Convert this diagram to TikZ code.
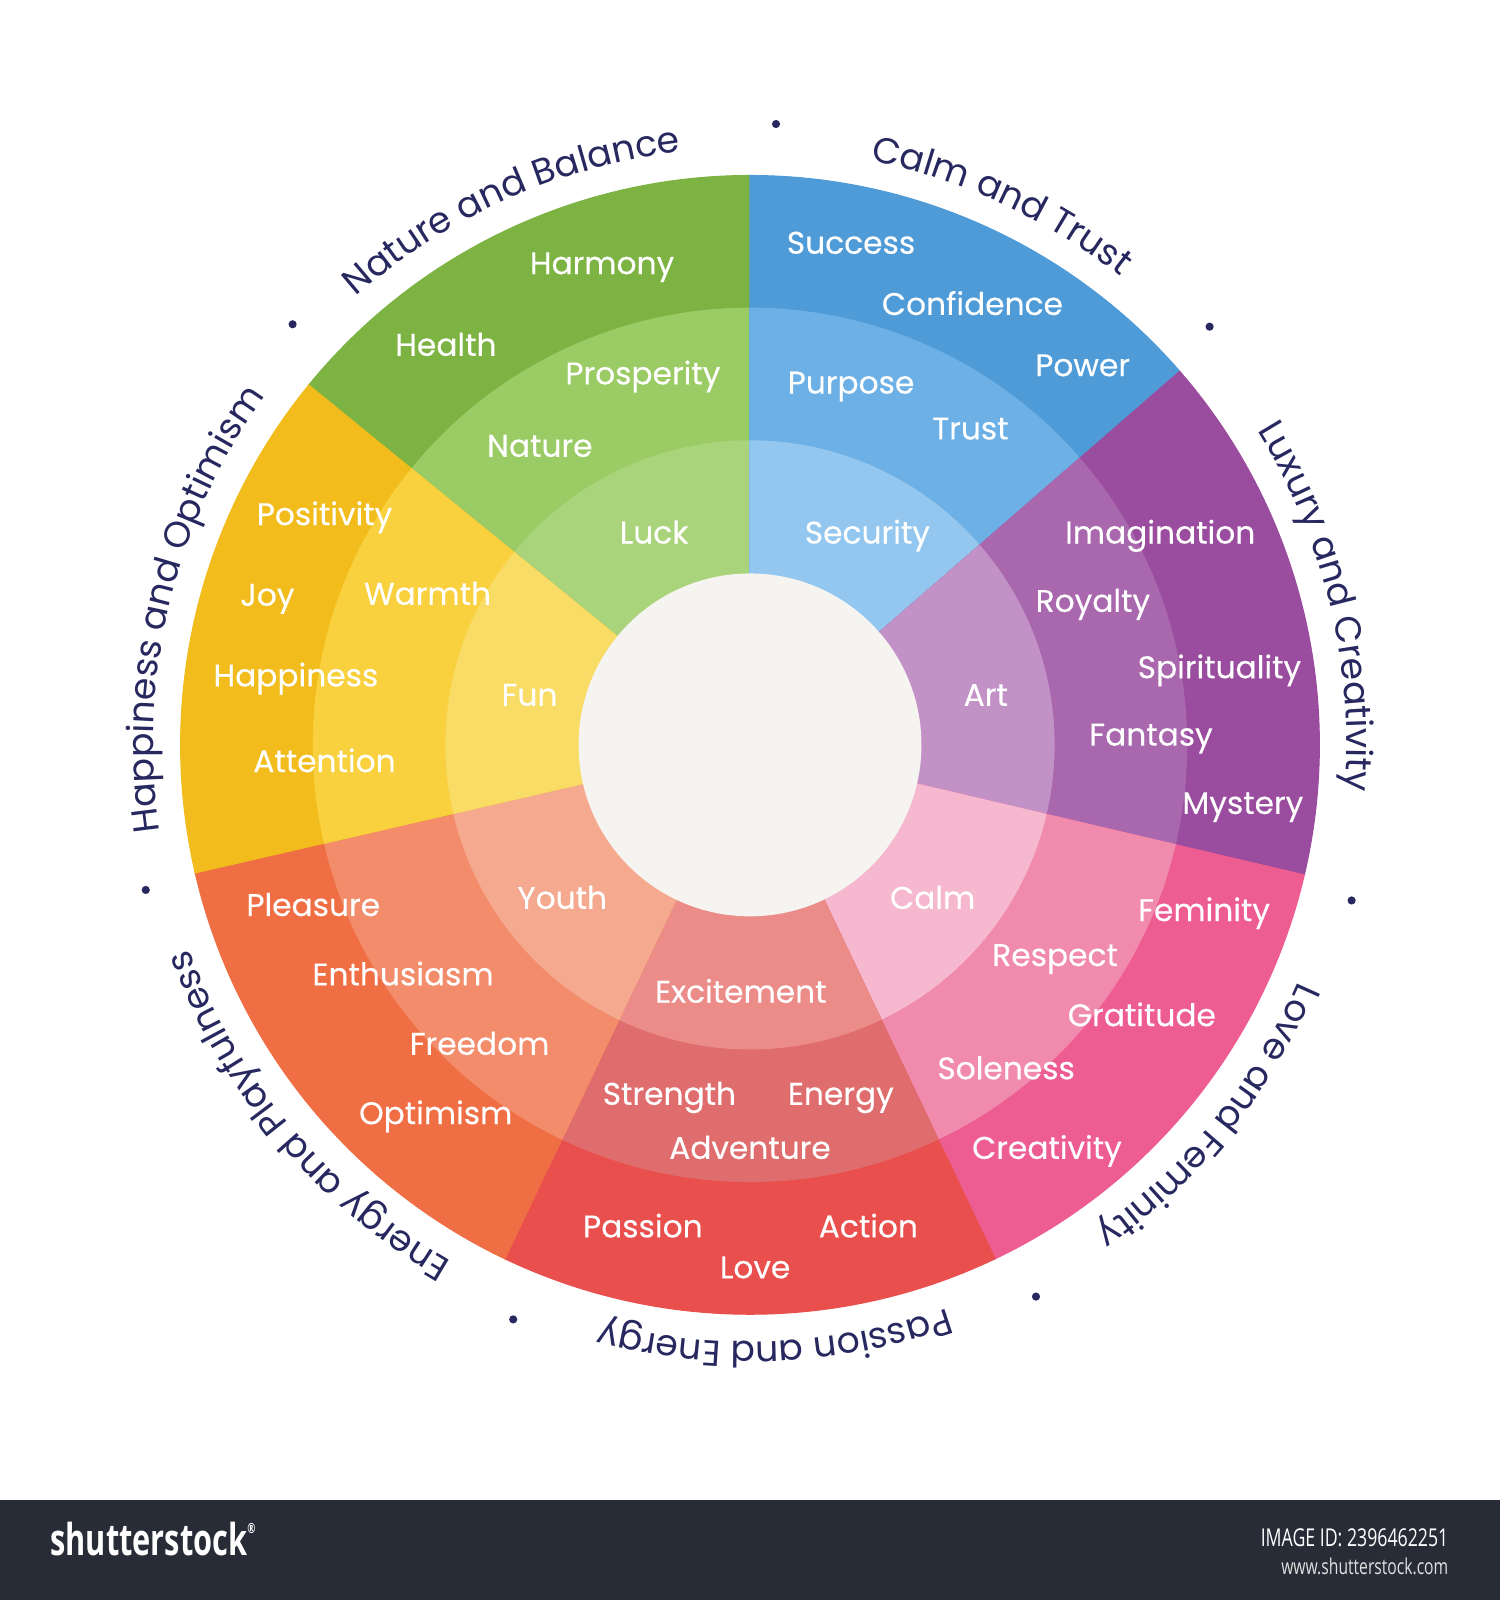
\documentclass[tikz,border=0pt]{standalone}
\usepackage{fontspec}
\setmainfont{Poppins}
\newfontfamily\labelfont{Poppins}[FakeBold=0.25]
\newfontfamily\curvefont{Poppins}
\newfontfamily\footfont{Open Sans}
\usetikzlibrary{decorations.text}
\definecolor{navy}{HTML}{26285F}
\definecolor{gO}{HTML}{7CB342}\definecolor{gM}{HTML}{9BCB64}\definecolor{gI}{HTML}{AAD47C}
\definecolor{bO}{HTML}{4F9BD7}\definecolor{bM}{HTML}{6CB0E5}\definecolor{bI}{HTML}{93C7EF}
\definecolor{pO}{HTML}{9A4C9E}\definecolor{pM}{HTML}{A967AE}\definecolor{pI}{HTML}{C292C6}
\definecolor{kO}{HTML}{EE5D92}\definecolor{kM}{HTML}{F18BAE}\definecolor{kI}{HTML}{F6B8CF}
\definecolor{rO}{HTML}{E94F4C}\definecolor{rM}{HTML}{E06D6D}\definecolor{rI}{HTML}{EB8C89}
\definecolor{oO}{HTML}{F06E44}\definecolor{oM}{HTML}{F28C6B}\definecolor{oI}{HTML}{F5AA90}
\definecolor{yO}{HTML}{F2BC1C}\definecolor{yM}{HTML}{F9D03E}\definecolor{yI}{HTML}{F8DC66}
\definecolor{hub}{HTML}{F5F4F1}
\definecolor{footbg}{HTML}{272C37}
\tikzset{
  lbl/.style={font=\labelfont\fontsize{8.9}{10}\selectfont, text=white, inner sep=0pt, text height=6.2pt, text depth=0pt},
  seg/.style={fill=#1, draw=#1, line width=0.3pt},
  curved/.style={decorate, decoration={text along path, text align=center, text color=navy, text={|\curvefont\fontsize{10.3}{12}\selectfont|#1}}},
  dotmark/.style={fill=navy},
  foottext/.style={text=white, inner sep=0pt}
}
\begin{document}
\begin{tikzpicture}[x=0.010204cm, y=0.010204cm]
\useasboundingbox (0,0) rectangle (1470,1568);
\fill[white] (0,0) rectangle (1470,1568);
\coordinate (c) at (735,838);
% wheel
\foreach \a/\b/\o/\m/\i in {90/140.8/gO/gM/gI, 41/90/bO/bM/bI, -13.2/41/pO/pM/pI, -64.5/-13.2/kO/kM/kI, -115.5/-64.5/rO/rM/rI, -167/-115.5/oO/oM/oI, 140.8/193/yO/yM/yI}{
  \filldraw[seg=\o] (c) -- ++(\a:558) arc[start angle=\a, end angle=\b, radius=558] -- cycle;
  \filldraw[seg=\m] (c) -- ++(\a:428) arc[start angle=\a, end angle=\b, radius=428] -- cycle;
  \filldraw[seg=\i] (c) -- ++(\a:298) arc[start angle=\a, end angle=\b, radius=298] -- cycle;
}
\fill[hub] (c) circle[radius=168];
% green
\node[lbl] (harmony) at (590,1310) {Harmony};
\node[lbl] (health) at (437,1230) {Health};
\node[lbl] (prosperity) at (630,1202) {Prosperity};
\node[lbl] (nature) at (529,1131) {Nature};
\node[lbl] (luck) at (641,1046) {Luck};
% blue
\node[lbl] (success) at (834,1330) {Success};
\node[lbl] (confidence) at (953,1270) {Confidence};
\node[lbl] (power) at (1061,1210) {Power};
\node[lbl] (purpose) at (834,1193) {Purpose};
\node[lbl] (trust) at (951,1148) {Trust};
\node[lbl] (security) at (850,1046) {Security};
% purple
\node[lbl] (imagination) at (1137,1046) {Imagination};
\node[lbl] (royalty) at (1071,979) {Royalty};
\node[lbl] (spirituality) at (1195,914) {Spirituality};
\node[lbl] (art) at (966,887) {Art};
\node[lbl] (fantasy) at (1128,848) {Fantasy};
\node[lbl] (mystery) at (1218,781) {Mystery};
% pink
\node[lbl] (calm) at (914,688) {Calm};
\node[lbl] (feminity) at (1180,676) {Feminity};
\node[lbl] (respect) at (1034,632) {Respect};
\node[lbl] (gratitude) at (1119,573) {Gratitude};
\node[lbl] (soleness) at (986,521) {Soleness};
\node[lbl] (creativity) at (1026,443) {Creativity};
% red
\node[lbl] (excitement) at (726,596) {Excitement};
\node[lbl] (strength) at (656,496) {Strength};
\node[lbl] (energy) at (824,496) {Energy};
\node[lbl] (adventure) at (735,443) {Adventure};
\node[lbl] (passion) at (630,366) {Passion};
\node[lbl] (action) at (851,366) {Action};
\node[lbl] (love) at (740,326) {Love};
% orange
\node[lbl] (pleasure) at (307,681) {Pleasure};
\node[lbl] (youth) at (551,688) {Youth};
\node[lbl] (enthusiasm) at (395,613) {Enthusiasm};
\node[lbl] (freedom) at (470,545) {Freedom};
\node[lbl] (optimism) at (427,477) {Optimism};
% yellow
\node[lbl] (positivity) at (318,1064) {Positivity};
\node[lbl] (joy) at (262,985) {Joy};
\node[lbl] (warmth) at (419,986) {Warmth};
\node[lbl] (happiness) at (290,906) {Happiness};
\node[lbl] (fun) at (519,887) {Fun};
\node[lbl] (attention) at (318,822) {Attention};
% dots
\foreach \t in {87.6,42.3,-14.5,-62.6,-112.4,193.5,137.4}
  \fill[dotmark] (c) ++(\t:609) circle[radius=4];
% curved titles
\path[curved={Nature and Balance}] (c) ++(154:585) arc[start angle=154, end angle=74, radius=585];
\path[curved={Calm and Trust}] (c) ++(105:585) arc[start angle=105, end angle=25, radius=585];
\path[curved={Luxury and Creativity}] (c) ++(53.7:585) arc[start angle=53.7, end angle=-26.3, radius=585];
\path[curved={Love and Feminity}] (c) ++(1:585) arc[start angle=1, end angle=-79, radius=585];
\path[curved={Passion and Energy}] (c) ++(-47.6:585) arc[start angle=-47.6, end angle=-127.6, radius=585];
\path[curved={Energy and Playfulness}] (c) ++(-100:585) arc[start angle=-100, end angle=-180, radius=585];
\path[curved={Happiness and Optimism}] (c) ++(206.3:585) arc[start angle=206.3, end angle=126.3, radius=585];
% footer
\fill[footbg] (0,0) rectangle (1470,98);
\node[foottext, font=\footfont\bfseries\fontsize{12.5}{14}\selectfont] (logo) at (150,60) {\scalebox{0.7}[1]{shutterstock\raisebox{0.9ex}{\fontsize{4}{4}\selectfont ®}}};
\node[foottext, anchor=east, font=\footfont\fontsize{7}{8}\selectfont] (imgid) at (1420,61) {\scalebox{0.72}[1]{IMAGE ID: 2396462251}};
\node[foottext, anchor=east, font=\footfont\fontsize{6.2}{7}\selectfont, text=white!88!black] (url) at (1420,33) {\scalebox{0.72}[1]{www.shutterstock.com}};
\end{tikzpicture}
\end{document}
